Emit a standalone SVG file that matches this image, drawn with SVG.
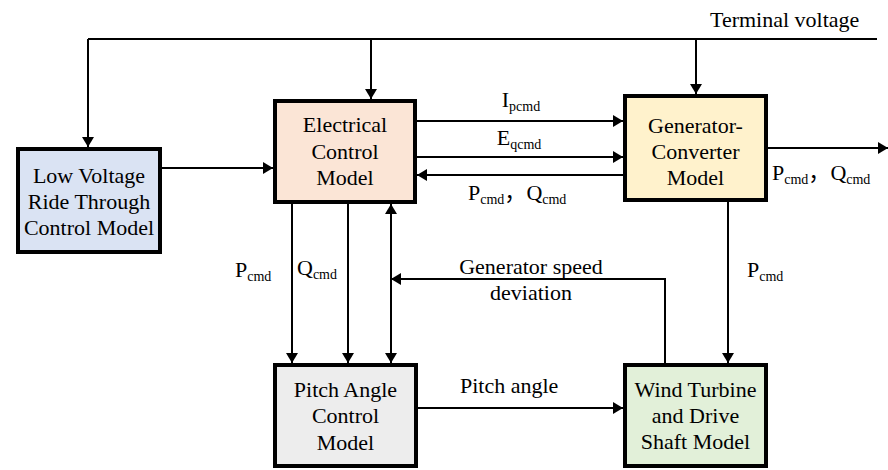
<svg xmlns="http://www.w3.org/2000/svg" width="888" height="470" viewBox="0 0 888 470">
<defs>
<marker id="ah" viewBox="0 0 10 12" refX="10" refY="6" markerWidth="10" markerHeight="12" markerUnits="userSpaceOnUse" orient="auto-start-reverse">
<path d="M0,0 L10,6 L0,12 z" fill="#000"/>
</marker>
<style>
.box{stroke:#000;stroke-width:4}
.t{font-family:"Liberation Serif","Times New Roman",Times,serif;font-size:22px;fill:#000}
.c{text-anchor:middle}
.s{font-size:14px}
.cj{font-family:"Noto Sans CJK SC",sans-serif}
.ln{fill:none;stroke:#000;stroke-width:2}
.ar{fill:none;stroke:#000;stroke-width:2;marker-end:url(#ah)}
</style>
</defs>
<rect width="888" height="470" fill="#fff"/>
<g id="connectors">
<path class="ln" d="M88,39 H877"/>
<path class="ar" d="M88,39 V147"/>
<path class="ar" d="M371,39 V99"/>
<path class="ar" d="M696,39 V94"/>
<path class="ar" d="M162,168 H273"/>
<path class="ar" d="M417,121 H623"/>
<path class="ar" d="M417,157 H623"/>
<path class="ar" d="M623,175 H417"/>
<path class="ar" d="M768,148 H888"/>
<path class="ar" d="M728,202 V363"/>
<path class="ar" d="M292,204 V363"/>
<path class="ar" d="M348,204 V363"/>
<path class="ar" d="M391,279 V363"/>
<path class="ar" d="M391,279 V204"/>
<path class="ar" d="M665,363 V279 H391"/>
<path class="ar" d="M418,408 H623"/>
</g>
<g id="labels">
<text class="t" x="710" y="27">Terminal voltage</text>
<text class="t c" x="521" y="107">I<tspan class="s" dy="4">pcmd</tspan></text>
<text class="t c" x="519" y="145">E<tspan class="s" dy="4">qcmd</tspan></text>
<text class="t" x="468" y="200">P<tspan class="s" dy="4">cmd</tspan><tspan class="cj" dy="-4">，</tspan>Q<tspan class="s" dy="4">cmd</tspan></text>
<text class="t" x="772" y="180">P<tspan class="s" dy="4">cmd</tspan><tspan class="cj" dy="-4">，</tspan>Q<tspan class="s" dy="4">cmd</tspan></text>
<text class="t" x="235" y="277">P<tspan class="s" dy="4">cmd</tspan></text>
<text class="t" x="297" y="275">Q<tspan class="s" dy="4">cmd</tspan></text>
<text class="t" x="747" y="277">P<tspan class="s" dy="4">cmd</tspan></text>
<text class="t c" x="531" y="274">Generator speed</text>
<text class="t c" x="531" y="300">deviation</text>
<text class="t" x="460" y="393">Pitch angle</text>
</g>
<g id="lvrt">
<rect class="box" x="18" y="149" width="142" height="103" fill="#dae3f3"/>
<text class="t c" x="89" y="183">Low Voltage</text>
<text class="t c" x="89" y="209">Ride Through</text>
<text class="t c" x="89" y="235">Control Model</text>
</g>
<g id="electrical">
<rect class="box" x="275" y="101" width="140" height="101" fill="#fbe5d6"/>
<text class="t c" x="345" y="132">Electrical</text>
<text class="t c" x="345" y="158.5">Control</text>
<text class="t c" x="345" y="185">Model</text>
</g>
<g id="generator">
<rect class="box" x="625" y="96" width="141" height="104" fill="#fff2cc"/>
<text class="t c" x="695.5" y="133">Generator-</text>
<text class="t c" x="695.5" y="159">Converter</text>
<text class="t c" x="695.5" y="185">Model</text>
</g>
<g id="pitch">
<rect class="box" x="275" y="365" width="141" height="101" fill="#ededed"/>
<text class="t c" x="345.5" y="397">Pitch Angle</text>
<text class="t c" x="345.5" y="423">Control</text>
<text class="t c" x="345.5" y="450">Model</text>
</g>
<g id="wind">
<rect class="box" x="625" y="365" width="141" height="101" fill="#e2f0d9"/>
<text class="t c" x="695.5" y="397">Wind Turbine</text>
<text class="t c" x="695.5" y="423">and Drive</text>
<text class="t c" x="695.5" y="449">Shaft Model</text>
</g>
</svg>
